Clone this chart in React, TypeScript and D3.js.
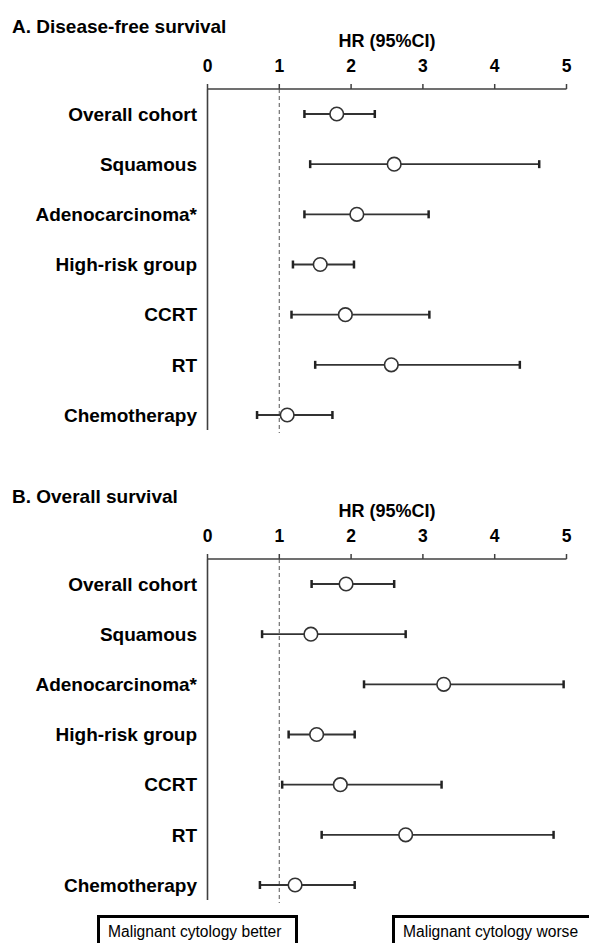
import React from "react";
import * as d3 from "d3";

const categories = [
  "Overall cohort",
  "Squamous",
  "Adenocarcinoma*",
  "High-risk group",
  "CCRT",
  "RT",
  "Chemotherapy",
];

const tickValues = [0, 1, 2, 3, 4, 5];

// Panel A: Disease-free survival
const dfsHR = [1.8, 2.6, 2.08, 1.57, 1.92, 2.56, 1.11];
const dfsLow = [1.35, 1.43, 1.35, 1.19, 1.17, 1.5, 0.69];
const dfsHigh = [2.33, 4.62, 3.08, 2.04, 3.09, 4.35, 1.74];

// Panel B: Overall survival
const osHR = [1.93, 1.44, 3.29, 1.52, 1.85, 2.76, 1.22];
const osLow = [1.45, 0.76, 2.18, 1.13, 1.04, 1.59, 0.73];
const osHigh = [2.6, 2.76, 4.96, 2.05, 3.26, 4.82, 2.05];

const panelTitles = ["A. Disease-free survival", "B. Overall survival"];
const axisTitle = "HR (95%CI)";
const boxLabels = ["Malignant cytology better", "Malignant cytology worse"];

const W = 589;
const H = 943;
const FONT = "Arial, 'Liberation Sans', Helvetica, sans-serif";

const x = d3.scaleLinear().domain([0, 5]).range([207.5, 566.5]);

type PanelProps = {
  top: number;
  title: string;
  hr: number[];
  lo: number[];
  hi: number[];
};

function Panel({ top, title, hr, lo, hi }: PanelProps) {
  const axisY = top + 89;
  const y = d3
    .scalePoint<string>()
    .domain(categories)
    .range([axisY + 25, axisY + 326]);
  const bottomAxis = axisY + 341;
  const line = d3.line<[number, number]>();
  return (
    <g>
      <text x={12} y={top + 33} fontFamily={FONT} fontWeight="bold" fontSize={19} fill="#000">
        {title}
      </text>
      <text
        x={x(2.5)}
        y={axisY - 42}
        textAnchor="middle"
        fontFamily={FONT}
        fontWeight="bold"
        fontSize={18}
        fill="#000"
      >
        {axisTitle}
      </text>
      {tickValues.map((t) => (
        <g key={t}>
          <text
            x={x(t)}
            y={axisY - 17}
            textAnchor="middle"
            fontFamily={FONT}
            fontWeight="bold"
            fontSize={17.5}
            fill="#000"
          >
            {t}
          </text>
          <path
            d={line([
              [x(t), axisY - 5],
              [x(t), axisY],
            ]) || ""}
            stroke="#404040"
            strokeWidth={1.5}
          />
        </g>
      ))}
      {/* reference line at HR = 1 */}
      <path
        d={line([
          [x(1), axisY],
          [x(1), bottomAxis + 3],
        ]) || ""}
        stroke="#707070"
        strokeWidth={1.2}
        strokeDasharray="4,3"
        fill="none"
      />
      {/* horizontal axis */}
      <path
        d={line([
          [x(0), axisY],
          [x(5), axisY],
        ]) || ""}
        stroke="#404040"
        strokeWidth={1.6}
      />
      {/* vertical axis */}
      <path
        d={line([
          [x(0), axisY],
          [x(0), bottomAxis],
        ]) || ""}
        stroke="#404040"
        strokeWidth={1.6}
      />
      {categories.map((c, i) => {
        const cy = y(c) as number;
        return (
          <g key={c}>
            <text
              x={197}
              y={cy + 6.8}
              textAnchor="end"
              fontFamily={FONT}
              fontWeight="bold"
              fontSize={19}
              fill="#000"
            >
              {c}
            </text>
            <path
              d={line([
                [x(lo[i]), cy],
                [x(hi[i]), cy],
              ]) || ""}
              stroke="#333"
              strokeWidth={1.8}
            />
            <path
              d={line([
                [x(lo[i]), cy - 4],
                [x(lo[i]), cy + 4],
              ]) || ""}
              stroke="#222"
              strokeWidth={2.5}
            />
            <path
              d={line([
                [x(hi[i]), cy - 4],
                [x(hi[i]), cy + 4],
              ]) || ""}
              stroke="#222"
              strokeWidth={2.5}
            />
            <circle cx={x(hr[i])} cy={cy} r={6.8} fill="#fff" stroke="#333" strokeWidth={1.6} />
          </g>
        );
      })}
    </g>
  );
}

export default function App() {
  return (
    <svg
      width={W}
      height={H}
      viewBox={`0 0 ${W} ${H}`}
      style={{ position: "absolute", left: 0, top: 0, display: "block", background: "#fff" }}
    >
      <rect x={0} y={0} width={W} height={H} fill="#fff" />
      <Panel top={0} title={panelTitles[0]} hr={dfsHR} lo={dfsLow} hi={dfsHigh} />
      <Panel top={470} title={panelTitles[1]} hr={osHR} lo={osLow} hi={osHigh} />
      <rect x={98.5} y={916.5} width={198} height={40} fill="#fff" stroke="#000" strokeWidth={3} />
      <text x={108} y={936.5} fontFamily={FONT} fontSize={15.6} fill="#000">
        {boxLabels[0]}
      </text>
      <rect x={393.5} y={916.5} width={210} height={40} fill="#fff" stroke="#000" strokeWidth={3} />
      <text x={403} y={936.5} fontFamily={FONT} fontSize={15.6} fill="#000">
        {boxLabels[1]}
      </text>
    </svg>
  );
}
